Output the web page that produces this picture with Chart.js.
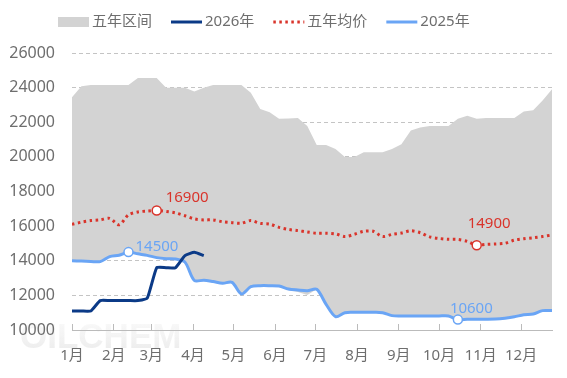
<!DOCTYPE html>
<html>
<head>
<meta charset="utf-8">
<script src="https://cdn.jsdelivr.net/npm/chart.js@4/dist/chart.umd.min.js"></script>
<style>
html,body{margin:0;padding:0;background:#fff;}
#wrap{width:567px;height:378px;position:relative;}
</style>
</head>
<body>
<div id="wrap"><canvas id="c"></canvas></div>
<script>
// ---- data ----
const months = ['1月','2月','3月','4月','5月','6月','7月','8月','9月','10月','11月','12月'];
const monthStartDays = [1,32,60,91,121,152,182,213,244,274,305,335];
const yTicks = [10000,12000,14000,16000,18000,20000,22000,24000,26000];
const legendNames = ['五年区间','2026年','五年均价','2025年'];

const rangeHigh = [23450,24080,24150,24150,24150,24150,24150,24550,24550,24550,
  24000,24000,24000,23780,24000,24150,24150,24150,24150,23700,
  22770,22580,22200,22220,22240,21790,20690,20690,20460,20000,
  20000,20270,20270,20270,20460,20730,21520,21690,21790,21790,
  21790,22200,22370,22200,22240,22240,22240,22240,22620,22700,
  23250,23900];
const rangeLow = [14000,13980,13960,13950,14240,14320,14500,14400,14310,14180,
  14120,14100,13920,12860,12880,12800,12700,12750,12080,12500,
  12560,12560,12540,12300,12200,12020,12350,11480,10770,11000,
  11020,11020,11020,11000,10830,10810,10810,10810,10810,10810,
  10810,10600,10620,10620,10620,10630,10680,10760,10880,10920,
  11120,11120];
const avg5y = [16100,16230,16320,16360,16450,16080,16650,16820,16870,16900,
  16850,16760,16600,16420,16360,16360,16250,16200,16170,16320,
  16160,16120,15930,15810,15740,15660,15590,15590,15550,15400,
  15530,15700,15700,15400,15520,15600,15730,15620,15380,15290,
  15240,15230,15120,14900,14950,14970,15010,15190,15270,15330,
  15400,15490];
const y2025 = [14000,13980,13960,13950,14240,14320,14500,14400,14310,14180,
  14120,14100,13920,12860,12880,12800,12700,12750,12080,12500,
  12560,12560,12540,12370,12310,12270,12350,11480,10770,11000,
  11020,11020,11020,11000,10830,10810,10810,10810,10810,10810,
  10810,10600,10620,10620,10620,10630,10680,10760,10880,10920,
  11120,11120];
const y2026 = [11100,11100,11100,11700,11700,11700,11700,11700,11850,13600,
  13600,13600,14300,14490,14300];

// ---- helpers ----
const dayOf = i => 1 + 7 * i;           // weekly points, day-of-year
const toPts = arr => arr.map((v, i) => ({x: dayOf(i), y: v}));
const idxMax = a => a.indexOf(Math.max(...a));
const idxMin = a => a.indexOf(Math.min(...a));
const markR = (arr, idxs) => arr.map((v, i) => idxs.includes(i) ? 4.5 : 0);

const C_AREA = '#d3d3d3', C_2026 = '#0b3a87', C_AVG = '#d9342b', C_2025 = '#6aa5f5';
const TXT = '#6e6e6e';
const FONT = "'Noto Sans', 'Noto Sans CJK SC', sans-serif";
const AVG_DASH = [2.5, 3.5];

const avgMarks = [idxMax(avg5y), idxMin(avg5y)];
const m25Marks = [idxMax(y2025), idxMin(y2025)];

// label specs: [datasetIndex, pointIndex, color, dx, dy]
const markLabels = [
  [3, avgMarks[0], C_AVG, 9, -13],
  [3, avgMarks[1], C_AVG, -9, -21],
  [4, m25Marks[0], C_2025, 7, -5],
  [4, m25Marks[1], C_2025, -8, -11]
];

const markLabelPlugin = {
  id: 'markLabels',
  afterDatasetsDraw(chart) {
    const ctx = chart.ctx;
    ctx.save();
    ctx.font = '15px ' + FONT;
    ctx.textAlign = 'left';
    ctx.textBaseline = 'middle';
    markLabels.forEach(([ds, pi, col, dx, dy]) => {
      const el = chart.getDatasetMeta(ds).data[pi];
      const v = chart.data.datasets[ds].data[pi].y;
      ctx.fillStyle = col;
      ctx.fillText(String(v), el.x + dx, el.y + dy);
    });
    ctx.restore();
  }
};

const legendPlugin = {
  id: 'customLegend',
  afterDraw(chart) {
    const ctx = chart.ctx;
    ctx.save();
    ctx.font = '15px ' + FONT;
    ctx.textBaseline = 'middle';
    ctx.textAlign = 'left';
    const yc = 22;
    let x = 58;
    const styles = [
      {type: 'rect', color: C_AREA},
      {type: 'line', color: C_2026, dash: []},
      {type: 'line', color: C_AVG, dash: AVG_DASH},
      {type: 'line', color: C_2025, dash: []}
    ];
    legendNames.forEach((name, k) => {
      const s = styles[k];
      const w = 31;
      if (s.type === 'rect') {
        ctx.fillStyle = s.color;
        ctx.fillRect(x, yc - 5, w, 10);
      } else {
        ctx.strokeStyle = s.color;
        ctx.lineWidth = 3;
        ctx.setLineDash(s.dash);
        ctx.lineCap = 'butt';
        ctx.beginPath();
        ctx.moveTo(x, yc);
        ctx.lineTo(x + w, yc);
        ctx.stroke();
        ctx.setLineDash([]);
      }
      x += w + 3;
      ctx.fillStyle = TXT;
      ctx.fillText(name, x, yc);
      x += ctx.measureText(name).width + 19;
    });
    ctx.restore();
  }
};

const watermarkPlugin = {
  id: 'watermark',
  beforeDraw(chart) {
    const ctx = chart.ctx;
    ctx.save();
    ctx.font = 'bold 35px "Liberation Sans", Arial, sans-serif';
    const g = ctx.createLinearGradient(0, 318, 0, 350);
    g.addColorStop(0, 'rgba(240,240,240,0.35)');
    g.addColorStop(1, 'rgba(215,215,215,0.45)');
    ctx.fillStyle = g;
    ctx.textBaseline = 'alphabetic';
    ctx.fillText('OILCHEM', 20, 348);
    ctx.restore();
  }
};

new Chart(document.getElementById('c'), {
  type: 'line',
  data: {
    datasets: [
      { label: '五年区间下限', data: toPts(rangeLow), borderWidth: 0, pointRadius: 0,
        fill: false, tension: 0, order: 10, backgroundColor: C_AREA, borderColor: 'rgba(0,0,0,0)' },
      { label: legendNames[0], data: toPts(rangeHigh), borderWidth: 0, pointRadius: 0,
        fill: 0, tension: 0, order: 9, backgroundColor: C_AREA, borderColor: 'rgba(0,0,0,0)' },
      { label: legendNames[1], data: toPts(y2026), borderColor: C_2026, borderWidth: 3,
        pointRadius: 0, tension: 0.15, fill: false, order: 0 },
      { label: legendNames[2], data: toPts(avg5y), borderColor: C_AVG, borderWidth: 3,
        borderDash: AVG_DASH, tension: 0.3, fill: false, order: 1,
        pointRadius: markR(avg5y, avgMarks), pointBackgroundColor: '#fff',
        pointBorderColor: C_AVG, pointBorderWidth: 1.5 },
      { label: legendNames[3], data: toPts(y2025), borderColor: C_2025, borderWidth: 3,
        tension: 0.3, fill: false, order: 2,
        pointRadius: markR(y2025, m25Marks), pointBackgroundColor: '#fff',
        pointBorderColor: C_2025, pointBorderWidth: 1.5 }
    ]
  },
  options: {
    responsive: true,
    maintainAspectRatio: false,
    animation: false,
    events: [],
    layout: { padding: { top: 53, right: 15, left: 0, bottom: 0 } },
    plugins: { legend: { display: false }, tooltip: { enabled: false } },
    scales: {
      x: {
        type: 'linear',
        min: 1,
        max: dayOf(rangeHigh.length - 1),
        afterBuildTicks: s => { s.ticks = monthStartDays.map(v => ({value: v})); },
        afterFit: s => { s.height = 48; },
        ticks: {
          autoSkip: false, maxRotation: 0, padding: 23, color: TXT,
          font: { size: 15, family: FONT },
          callback: (v, i) => months[i]
        },
        grid: { drawOnChartArea: false, drawTicks: true, tickLength: -6, color: '#bbb', lineWidth: 1 },
        border: { display: true, color: '#bbb', width: 1 }
      },
      y: {
        min: 10000,
        max: 26000,
        afterBuildTicks: s => { s.ticks = yTicks.map(v => ({value: v})); },
        afterFit: s => { s.width = 72; },
        ticks: { padding: 17, color: TXT, font: { size: 16, family: FONT },
          callback: v => String(v) },
        grid: { drawTicks: false, color: '#c4c4c4', lineWidth: 1 },
        border: { display: false, dash: [4, 3] }
      }
    }
  },
  plugins: [watermarkPlugin, markLabelPlugin, legendPlugin]
});
</script>
</body>
</html>
